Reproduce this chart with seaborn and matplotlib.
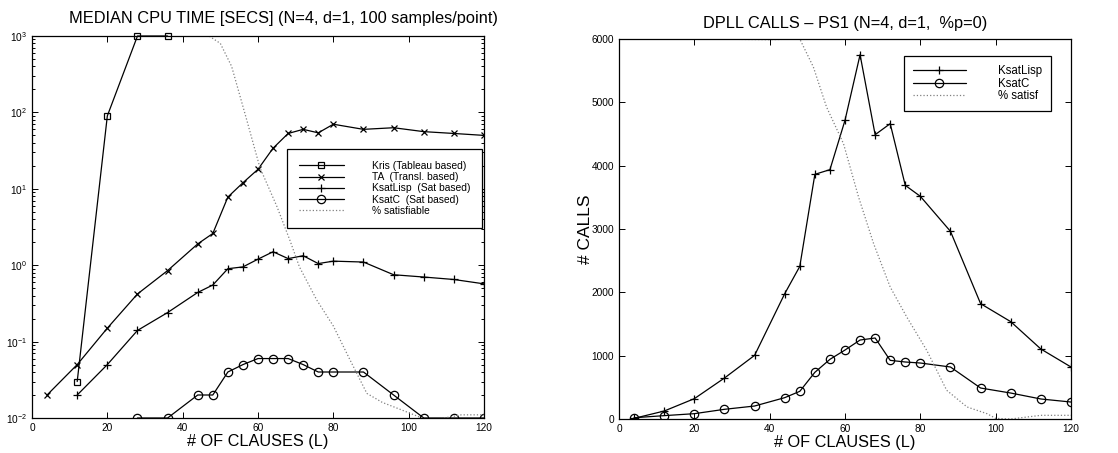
import numpy as np
import matplotlib
matplotlib.use("Agg")
import matplotlib.pyplot as plt
import seaborn as sns

# clause counts (L)
clauses = [4, 12, 20, 28, 36, 44, 48, 52, 56, 60, 64, 68, 72, 76, 80, 88, 96, 104, 112, 120]

# left panel: median CPU time [secs]
kris_x = [12, 20, 28, 36]
kris_t = [0.03, 90, 1000, 1000]
ta_t = [0.02, 0.05, 0.15, 0.42, 0.85, 1.9, 2.6, 7.8, 12, 18, 34, 53, 60, 54, 70, 60, 63, 56, 53, 50]
lisp_x = clauses[1:]
lisp_t = [0.02, 0.05, 0.14, 0.24, 0.44, 0.55, 0.9, 0.95, 1.2, 1.5, 1.22, 1.33, 1.05, 1.13, 1.1, 0.75, 0.7, 0.65, 0.57]
ksatc_x = clauses[3:]
ksatc_t = [0.01, 0.01, 0.02, 0.02, 0.04, 0.05, 0.06, 0.06, 0.06, 0.05, 0.04, 0.04, 0.04, 0.02, 0.01, 0.01, 0.01]
sat_x_left = [4, 20, 36, 47, 50, 53, 57, 60.5, 65, 68.5, 71, 75.6, 80, 84.4, 88.9, 93, 97.7, 104, 108, 114, 120]
sat_left = [1000, 1000, 1000, 1000, 800, 400, 80, 19, 5.9, 2.1, 0.95, 0.35, 0.16, 0.058, 0.021, 0.016, 0.013, 0.0098, 0.0097, 0.011, 0.011]

# right panel: DPLL calls
lisp_calls = [10, 126, 321, 647, 1005, 1979, 2410, 3863, 3937, 4716, 5752, 4489, 4663, 3689, 3516, 2963, 1821, 1537, 1105, 821]
ksatc_calls = [20, 53, 84, 153, 205, 337, 437, 737, 942, 1089, 1247, 1279, 926, 900, 884, 821, 489, 410, 316, 268]
sat_x_right = [0, 20, 40, 48, 51.6, 55.1, 59.6, 63.6, 67.6, 72, 76.4, 81.7, 87, 92.4, 97.7, 100, 104, 112, 120]
sat_right = [6000, 6000, 5990, 6000, 5558, 4926, 4347, 3505, 2768, 2084, 1610, 1084, 453, 190, 84, 10, 0, 58, 58]

sns.set_style("ticks")
plt.rcParams['font.family'] = ['Liberation Sans', 'DejaVu Sans']
plt.rcParams['xtick.direction'] = 'in'
plt.rcParams['ytick.direction'] = 'in'
plt.rcParams['xtick.top'] = True
plt.rcParams['ytick.right'] = True
plt.rcParams['text.color'] = 'black'
plt.rcParams['axes.labelcolor'] = 'black'
plt.rcParams['xtick.color'] = 'black'
plt.rcParams['ytick.color'] = 'black'

fig = plt.figure(figsize=(11.18, 4.53), dpi=100)
ax1 = fig.add_axes([32/1118, 1-418/453, 452/1118, 382/453])
ax2 = fig.add_axes([619/1118, 1-419/453, 452/1118, 380/453])

line_kw = dict(color="black", linewidth=0.9, markerfacecolor="none",
               markeredgecolor="black", markeredgewidth=0.9)

sns.lineplot(x=kris_x, y=kris_t, ax=ax1, marker="s", markersize=5, label="Kris (Tableau based)", clip_on=False, **line_kw)
sns.lineplot(x=clauses, y=ta_t, ax=ax1, marker="x", markersize=4, label="TA  (Transl. based)", **line_kw)
sns.lineplot(x=lisp_x, y=lisp_t, ax=ax1, marker="+", markersize=6, label="KsatLisp  (Sat based)", **line_kw)
sns.lineplot(x=ksatc_x, y=ksatc_t, ax=ax1, marker="o", markersize=6, label="KsatC  (Sat based)", **line_kw)
sns.lineplot(x=sat_x_left, y=sat_left, ax=ax1, color="#808080", linestyle=":", linewidth=0.9, label="% satisfiable")

ax1.set_yscale("log")
ax1.set_ylim(1e-2, 1e3)
ax1.set_xlim(0, 120)
ax1.set_xticks(np.arange(0, 121, 20))

sns.lineplot(x=clauses, y=lisp_calls, ax=ax2, marker="+", markersize=6, label="KsatLisp", **line_kw)
sns.lineplot(x=clauses, y=ksatc_calls, ax=ax2, marker="o", markersize=6, label="KsatC", **line_kw)
sns.lineplot(x=sat_x_right, y=sat_right, ax=ax2, color="#808080", linestyle=":", linewidth=0.9, label="% satisf")

ax2.set_ylim(0, 6000)
ax2.set_xlim(0, 120)
ax2.set_xticks(np.arange(0, 121, 20))
ax2.set_yticks(np.arange(0, 6001, 1000))

for ax in (ax1, ax2):
    ax.tick_params(which="both", labelsize=7.3, length=4, width=0.7, color="black")
    ax.tick_params(which="minor", length=2.5)
    for s in ax.spines.values():
        s.set_linewidth(0.9)
        s.set_color("black")
    ax.set_xlabel("# OF CLAUSES (L)", fontsize=11.7, labelpad=1)
    ax.set_ylabel("")

ax2.set_ylabel("# CALLS", fontsize=12.5, labelpad=-1)

ax1.text(0.557, 1.025, "MEDIAN CPU TIME [SECS] (N=4, d=1, 100 samples/point)",
         transform=ax1.transAxes, ha="center", va="bottom", fontsize=11.8)
ax2.set_title("DPLL CALLS \u2013 PS1 (N=4, d=1,  %p=0)", fontsize=11.8, pad=8)

leg1 = ax1.legend(loc="upper left", bbox_to_anchor=(0.564, 0.704), fontsize=7.4,
                  handlelength=4.4, handletextpad=2.7, labelspacing=0.12,
                  borderpad=1.15, borderaxespad=0, fancybox=False, framealpha=1)
leg1.get_frame().set_edgecolor("black")
leg1.get_frame().set_linewidth(0.9)

leg2 = ax2.legend(loc="upper left", bbox_to_anchor=((904-619)/452, (419-56)/380), fontsize=8.3,
                  handlelength=4.6, handletextpad=2.8, labelspacing=0.08,
                  borderpad=0.75, borderaxespad=0, fancybox=False, framealpha=1)
leg2.get_frame().set_edgecolor("black")
leg2.get_frame().set_linewidth(0.9)

fig.savefig("out.png", dpi=100)
